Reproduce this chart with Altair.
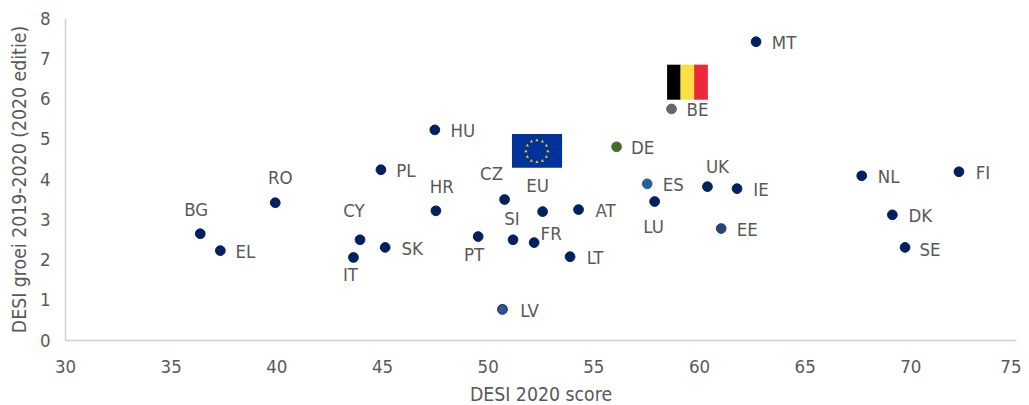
import altair as alt
import pandas as pd

codes = ["MT","BE","HU","DE","PL","FI","NL","ES","UK","IE","RO","CZ","LU","AT","EU","HR","DK","EE","BG","CY","PT","SI","FR","SK","SE","EL","LT","IT","LV"]
score = [62.7,58.7,47.5,56.1,44.95,72.3,67.7,57.55,60.4,61.8,39.95,50.8,57.9,54.3,52.6,47.55,69.15,61.05,36.4,43.96,49.55,51.2,52.2,45.15,69.75,37.35,53.9,43.65,50.7]
growth = [7.41,5.74,5.22,4.8,4.23,4.18,4.08,3.88,3.81,3.76,3.41,3.49,3.44,3.24,3.19,3.21,3.11,2.77,2.64,2.49,2.57,2.49,2.42,2.3,2.3,2.22,2.07,2.05,0.76]
fills = {"BE":"#666666","DE":"#476b2c","ES":"#2a6099","EE":"#264478","LV":"#2f5597"}
NAVY = "#002060"
fill = [fills.get(c, NAVY) for c in codes]
stroke = [NAVY if c == "LV" else fills.get(c, NAVY) for c in codes]

label_dx = [28,26,28,26,25,24,27,26,10,24,5,-13,-1,27,-5,6,28,26,-4,-6,-4,-1,17,27,25,25,25,-3,27]
label_dy = [1,1.5,1.5,1.5,1.5,1.5,1.5,1.5,-19.5,1.5,-24.5,-25.5,25.5,1.5,-25.5,-23.5,1.5,1.5,-23.5,-28.5,18.5,-20.5,-8.5,1.5,2.5,1.5,1.5,17.5,1.5]

be_x0 = [58.49,59.13,59.77]
be_x1 = [59.13,59.77,60.42]
be_y0 = [5.97,5.97,5.97]
be_y1 = [6.84,6.84,6.84]
be_col = ["#000000","#fae042","#ed2939"]

eu_x0 = [51.15]; eu_x1 = [53.52]; eu_y0 = [4.28]; eu_y1 = [5.12]
star_x = [52.33,52.59,52.78,52.85,52.78,52.59,52.33,52.07,51.88,51.81,51.88,52.07]
star_y = [4.97,4.94,4.84,4.70,4.56,4.46,4.43,4.46,4.56,4.70,4.84,4.94]

FONT = "DejaVu Sans Condensed"
TXT = "#595959"
FS = 18.5
xs = alt.Scale(domain=[30,75], nice=False)
ys = alt.Scale(domain=[0,8], nice=False)
df = pd.DataFrame(dict(code=codes, score=score, growth=growth, fill=fill, stroke=stroke))

X = alt.X("score:Q", scale=xs, title="DESI 2020 score",
          axis=alt.Axis(values=list(range(30,80,5)), grid=False, ticks=False, domainColor="#d0d0d0", domainWidth=1.5,
                        labelFlush=False, labelBound=False,
                        labelAlign=alt.condition("datum.value == 75", alt.value("right"), alt.value("center")),
                        labelOffset=alt.condition("datum.value == 75", alt.value(5), alt.value(0)),
                        labelFont=FONT, labelFontSize=FS, labelColor=TXT, labelPadding=17,
                        titleFont=FONT, titleFontSize=19.3, titleColor=TXT, titleFontWeight="normal", titlePadding=10))
Y = alt.Y("growth:Q", scale=ys, title="DESI groei 2019-2020 (2020 editie)",
          axis=alt.Axis(values=list(range(0,9)), grid=False, ticks=False, domainColor="#d0d0d0", domainWidth=1.5,
                        labelFlush=False, labelBound=False,
                        labelFont=FONT, labelFontSize=FS, labelColor=TXT, labelPadding=15,
                        titleFont=FONT, titleFontSize=19.3, titleColor=TXT, titleFontWeight="normal", titlePadding=10))

points = alt.Chart(df).mark_point(filled=True, shape="circle", size=95, opacity=1, strokeWidth=1).encode(
    x=X, y=Y, fill=alt.Fill("fill:N", scale=None), stroke=alt.Stroke("stroke:N", scale=None))

layers = [points]
for c, s, g, dx, dy in zip(codes, score, growth, label_dx, label_dy):
    layers.append(alt.Chart(pd.DataFrame(dict(score=[s], growth=[g], code=[c]))).mark_text(
        font=FONT, fontSize=FS, color=TXT, dx=dx, dy=dy, align="center", baseline="middle").encode(
        x=alt.X("score:Q", scale=xs), y=alt.Y("growth:Q", scale=ys), text="code:N"))

be = pd.DataFrame(dict(x0=be_x0, x1=be_x1, y0=be_y0, y1=be_y1, c=be_col))
layers.append(alt.Chart(be).mark_rect().encode(
    x=alt.X("x0:Q", scale=xs), x2="x1:Q", y=alt.Y("y0:Q", scale=ys), y2="y1:Q", color=alt.Color("c:N", scale=None)))
eu = pd.DataFrame(dict(x0=eu_x0, x1=eu_x1, y0=eu_y0, y1=eu_y1))
layers.append(alt.Chart(eu).mark_rect(color="#003399").encode(
    x=alt.X("x0:Q", scale=xs), x2="x1:Q", y=alt.Y("y0:Q", scale=ys), y2="y1:Q"))
stars = pd.DataFrame(dict(x=star_x, y=star_y))
layers.append(alt.Chart(stars).mark_point(shape="triangle-up", filled=True, size=10, color="#ffcc00", opacity=1).encode(
    x=alt.X("x:Q", scale=xs), y=alt.Y("y:Q", scale=ys)))

chart = alt.layer(*layers).properties(
    width=951, height=322,
    autosize=alt.AutoSizeParams(type="none"),
    padding={"left":57,"top":10,"right":5,"bottom":65},
    background="white",
).configure_view(stroke=None)
chart.save("out.html", embed_options={"renderer": "svg", "actions": False})
